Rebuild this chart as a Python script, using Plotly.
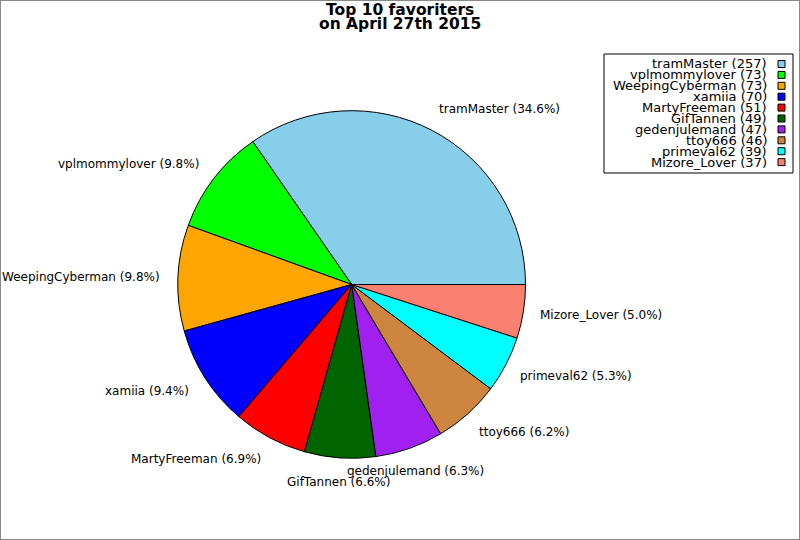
import math
import plotly.graph_objects as go

# favoriters data
names = ['tramMaster', 'vplmommylover', 'WeepingCyberman', 'xamiia', 'MartyFreeman',
         'GifTannen', 'gedenjulemand', 'ttoy666', 'primeval62', 'Mizore_Lover']
counts = [257, 73, 73, 70, 51, 49, 47, 46, 39, 37]
colors = ['#87CEEB', '#00FF00', '#FFA500', '#0000FF', '#FF0000',
          '#006400', '#A020F0', '#CD853F', '#00FFFF', '#FA8072']

W, H = 800, 540
font = 'DejaVu Sans'

# pie placement in pixels
cx, cy, r = 351.7, 284.5, 173.8

total = sum(counts)
# first slice should begin at 3 o'clock and run counterclockwise
rot = 90 - 360 * counts[0] / total

pie = go.Pie(labels=names, values=counts, sort=False, direction='counterclockwise',
             rotation=rot, marker=dict(colors=colors, line=dict(color='black', width=1)),
             textinfo='none', showlegend=False, hoverinfo='skip',
             domain=dict(x=[(cx - r) / W, (cx + r) / W], y=[1 - (cy + r) / H, 1 - (cy - r) / H]))

fig = go.Figure(pie)

# title in two lines (tight line spacing)
annotations = [
    dict(text='<b>Top 10 favoriters</b>', x=0.5, y=1 - 10 / H),
    dict(text='<b>on April 27th 2015</b>', x=0.5, y=1 - 24 / H),
]
for a in annotations:
    a.update(xref='paper', yref='paper', showarrow=False, xanchor='center', yanchor='middle',
             font=dict(family=font, size=15.5, color='black'))

# slice labels just outside the pie, at each slice's mid angle
cum = 0
for n, v in zip(names, counts):
    theta = math.radians(360 * (cum + v / 2) / total)
    cum += v
    c, s = math.cos(theta), math.sin(theta)
    if abs(c) < 0.4:
        anchor, nudge = 'center', 0
    elif c > 0:
        anchor, nudge = 'left', -2
    else:
        anchor, nudge = 'right', 0
    annotations.append(dict(text=f'{n} ({100 * v / total:.1f}%)',
                            x=(cx + 1.1 * r * c + nudge) / W, y=1 - (cy - 1.14 * r * s) / H,
                            xref='paper', yref='paper', showarrow=False,
                            xanchor=anchor, yanchor='middle', borderpad=0,
                            font=dict(family=font, size=12, color='black')))

# legend drawn by hand: text right-aligned, swatch on the right
shapes = [dict(type='rect', xref='paper', yref='paper', x0=604 / W, x1=793 / W,
               y0=1 - 173 / H, y1=1 - 54 / H, line=dict(color='black', width=1),
               fillcolor='white')]
for i, (n, c, col) in enumerate(zip(names, counts, colors)):
    yc = 64 + i * 10.9
    annotations.append(dict(text=f'{n} ({c})', x=769 / W, y=1 - yc / H, xref='paper', yref='paper',
                            showarrow=False, xanchor='right', yanchor='middle',
                            font=dict(family=font, size=13, color='black')))
    shapes.append(dict(type='rect', xref='paper', yref='paper', x0=778 / W, x1=785 / W,
                       y0=1 - (yc + 3.5) / H, y1=1 - (yc - 3.5) / H,
                       line=dict(color='black', width=1), fillcolor=col))

# outer frame
shapes.append(dict(type='rect', xref='paper', yref='paper', x0=0, x1=1, y0=0, y1=1,
                   line=dict(color='#888888', width=2)))

fig.update_layout(width=W, height=H, margin=dict(l=0, r=0, t=0, b=0),
                  paper_bgcolor='white', plot_bgcolor='white',
                  annotations=annotations, shapes=shapes)

fig.write_html("out.html", config={'displayModeBar': False},
               post_script="document.body.style.margin='0px';")
